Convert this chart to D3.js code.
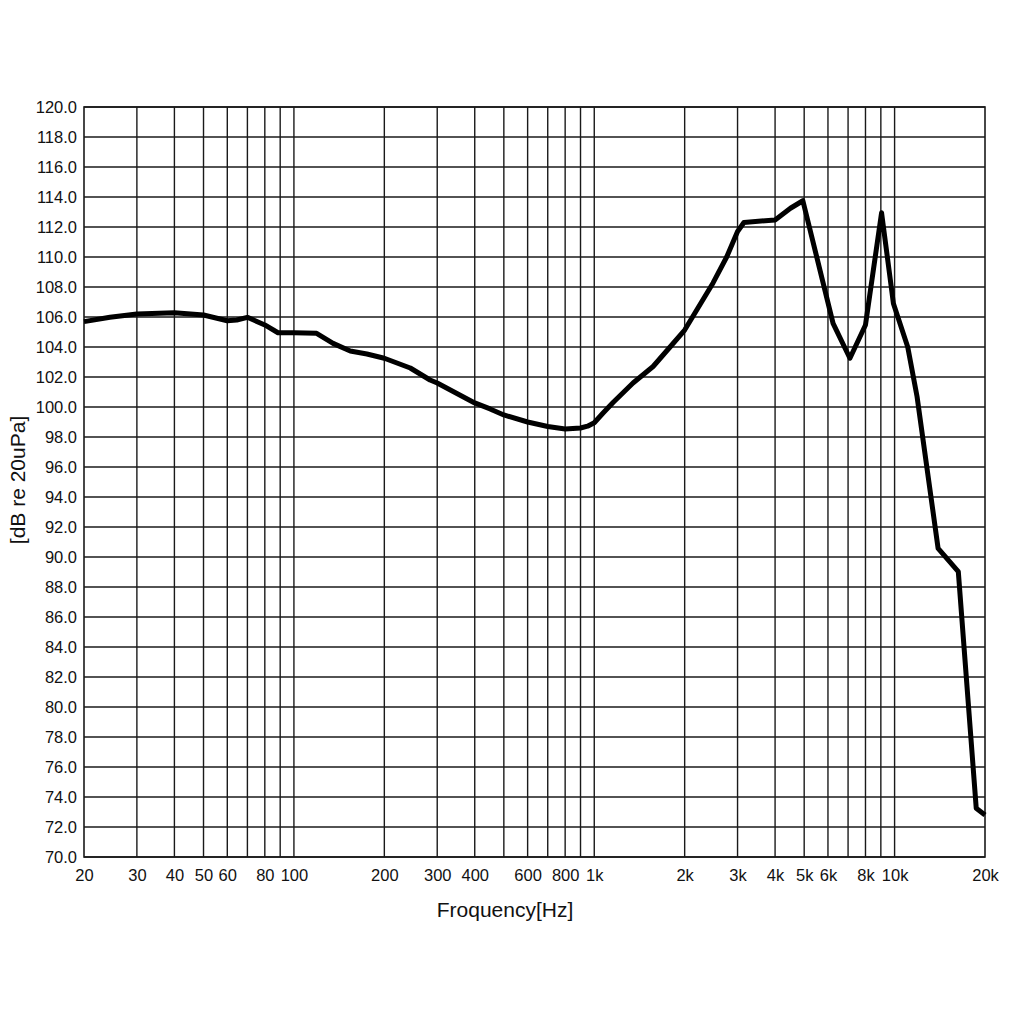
<!DOCTYPE html>
<html>
<head>
<meta charset="utf-8">
<script src="https://cdn.jsdelivr.net/npm/d3@7"></script>
<style>
  html, body { margin: 0; padding: 0; background: #fff; }
  svg { display: block; font-family: "Liberation Sans", Arial, sans-serif; }
</style>
</head>
<body>
<svg id="chart" width="1024" height="1024"></svg>
<script>
// ---- data ----
const freqs = [20, 24.4, 30, 40, 50, 60, 64.5, 70, 80, 88.5, 100, 119, 135, 154, 175, 200, 244, 284, 300, 400, 450, 500, 600, 700, 800, 900, 950, 1000, 1070, 1155, 1346, 1570, 1788, 2000, 2194, 2486, 2760, 3000, 3150, 4000, 4500, 4950, 6240, 7100, 8000, 9050, 9910, 11060, 11880, 13960, 16300, 18700, 20000];
const levels = [105.69, 105.98, 106.2, 106.29, 106.13, 105.75, 105.8, 105.98, 105.47, 104.95, 104.95, 104.91, 104.24, 103.73, 103.53, 103.25, 102.6, 101.8, 101.6, 100.27, 99.87, 99.47, 99.0, 98.7, 98.53, 98.6, 98.72, 98.95, 99.6, 100.3, 101.6, 102.7, 104.0, 105.13, 106.47, 108.27, 110.0, 111.7, 112.3, 112.47, 113.25, 113.75, 105.58, 103.25, 105.47, 112.95, 106.9, 104.0, 100.69, 90.58, 89.02, 73.25, 72.8];
const gridFreqs = [30, 40, 50, 60, 70, 80, 90, 100, 200, 300, 400, 500, 600, 700, 800, 900, 1000, 2000, 3000, 4000, 5000, 6000, 7000, 8000, 9000, 10000];
const xTickValues = [20, 30, 40, 50, 60, 80, 100, 200, 300, 400, 600, 800, 1000, 2000, 3000, 4000, 5000, 6000, 8000, 10000, 20000];
const xTickLabels = ["20", "30", "40", "50", "60", "80", "100", "200", "300", "400", "600", "800", "1k", "2k", "3k", "4k", "5k", "6k", "8k", "10k", "20k"];
const yTicks = d3.range(70, 120.001, 2);
const xTitle = "Froquency[Hz]";
const yTitle = "[dB re 20uPa]";

// ---- layout ----
const mLeft = 84, mRight = 985, mTop = 107, mBottom = 857;
const svg = d3.select("#chart");
const x = d3.scaleLog().domain([20, 20000]).range([mLeft, mRight]);
const y = d3.scaleLinear().domain([70, 120]).range([mBottom, mTop]);

const grid = svg.append("g").attr("stroke", "#1a1a1a").attr("stroke-width", 1.4);
grid.selectAll("line.v").data(gridFreqs).join("line").attr("class", "v")
  .attr("x1", d => x(d)).attr("x2", d => x(d))
  .attr("y1", mTop).attr("y2", mBottom);
grid.selectAll("line.h").data(yTicks).join("line").attr("class", "h")
  .attr("x1", mLeft).attr("x2", mRight)
  .attr("y1", d => y(d)).attr("y2", d => y(d));
svg.append("rect").attr("x", mLeft).attr("y", mTop)
  .attr("width", mRight - mLeft).attr("height", mBottom - mTop)
  .attr("fill", "none").attr("stroke", "#1a1a1a").attr("stroke-width", 1.6);

// axes (labels only)
const xAxis = d3.axisBottom(x).tickValues(xTickValues)
  .tickFormat((d, i) => xTickLabels[i]).tickSize(0).tickPadding(12);
const gx = svg.append("g").attr("transform", `translate(0,${mBottom})`).call(xAxis);
gx.select(".domain").remove();
gx.selectAll("text").attr("font-size", 16.5).attr("fill", "#111")
  .attr("font-family", "'Liberation Sans', Arial, sans-serif");

const yAxis = d3.axisLeft(y).tickValues(yTicks)
  .tickFormat(d3.format(".1f")).tickSize(0).tickPadding(7);
const gy = svg.append("g").attr("transform", `translate(${mLeft},0)`).call(yAxis);
gy.select(".domain").remove();
gy.selectAll("text").attr("font-size", 16.5).attr("fill", "#111")
  .attr("font-family", "'Liberation Sans', Arial, sans-serif");

svg.append("text").attr("x", 505).attr("y", 917)
  .attr("text-anchor", "middle").attr("font-size", 21).attr("fill", "#111")
  .text(xTitle);
svg.append("text").attr("transform", "translate(25,480) rotate(-90)")
  .attr("text-anchor", "middle").attr("font-size", 21).attr("fill", "#111")
  .text(yTitle);

// curve
const pts = freqs.map((f, i) => [f, levels[i]]);
const line = d3.line().x(d => x(d[0])).y(d => y(d[1])).curve(d3.curveLinear);
svg.append("path").datum(pts)
  .attr("fill", "none").attr("stroke", "#000").attr("stroke-width", 5)
  .attr("stroke-linejoin", "round").attr("stroke-linecap", "butt")
  .attr("d", line);
</script>
</body>
</html>
